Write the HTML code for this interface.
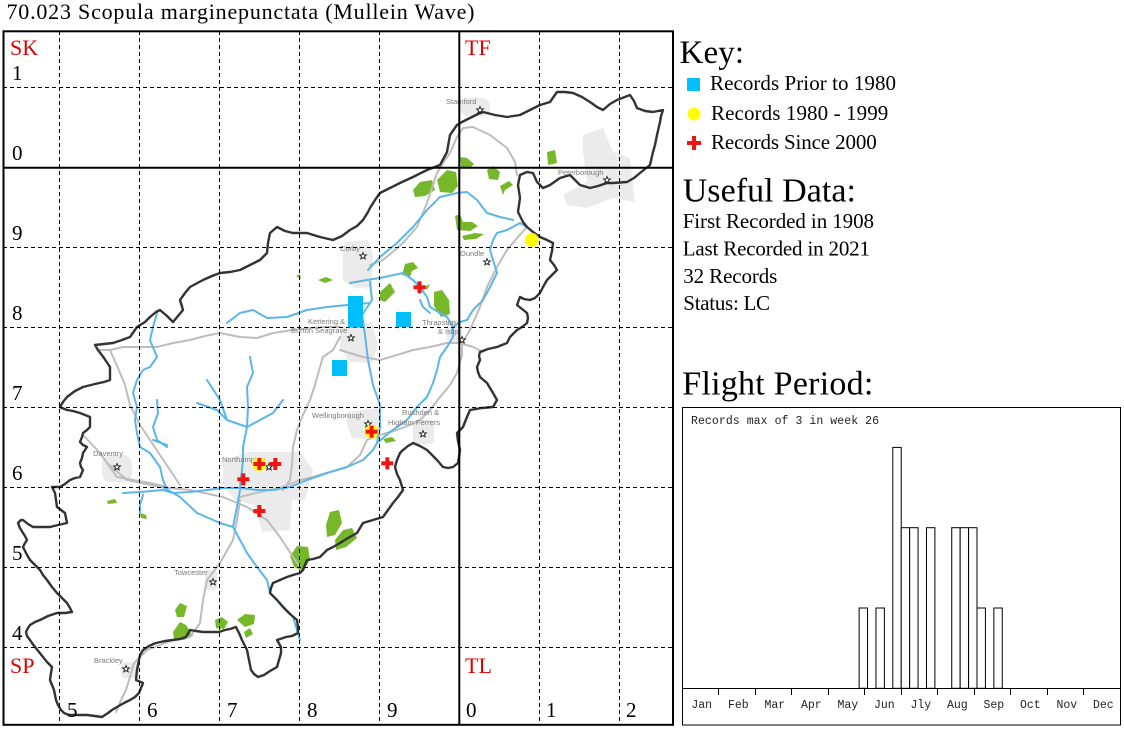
<!DOCTYPE html>
<html><head><meta charset="utf-8"><style>
html,body{margin:0;padding:0;background:#fff;}
svg{display:block;}
.serif{font-family:"Liberation Serif","Times New Roman",serif;}
.mono{font-family:"Liberation Mono","Courier New",monospace;}
.sans{font-family:"Liberation Sans",Arial,sans-serif;}
</style></head><body>
<svg width="1124" height="730" viewBox="0 0 1124 730" xmlns="http://www.w3.org/2000/svg">
<rect width="1124" height="730" fill="#fff"/>
<!-- Title -->
<text class="serif" x="6.5" y="19" font-size="22" textLength="468" lengthAdjust="spacing" fill="#000">70.023 Scopula marginepunctata (Mullein Wave)</text>

<!-- MAP -->
<g>
<!-- urban areas -->
<g fill="#ebebeb">
<path d="M583,135 L603,128 L613,152 L630,158 L633,185 L635,202 L613,198 L587,208 L567,205 L563,195 L587,182 L583,152 Z"/>
<rect x="460" y="98" width="30" height="18" rx="8"/>
<path d="M345,242 L368,240 L373,255 L372,287 L355,288 L343,280 L343,255 Z"/>
<path d="M340,327 L372,322 L378,345 L372,363 L350,362 L340,348 Z"/>
<rect x="447" y="320" width="15" height="24" rx="5"/>
<path d="M347,412 L378,408 L382,428 L376,440 L352,438 L347,425 Z"/>
<rect x="413" y="420" width="21" height="24" rx="4"/>
<path d="M223,460 L250,452 L300,452 L313,470 L305,500 L292,500 L290,530 L262,532 L255,505 L235,500 L223,485 Z"/>
<rect x="102" y="455" width="30" height="27" rx="9"/>
<rect x="205" y="570" width="12" height="20" rx="4"/>
<rect x="121" y="662" width="18" height="16" rx="4"/>
</g>
<!-- woodland -->
<g fill="#76b82a">
<path d="M413,190 L420,182 L432,180 L435,190 L425,196 L415,197 Z"/>
<path d="M437,180 L447,170 L456,172 L458,186 L452,193 L440,192 Z"/>
<path d="M460,157 L467,158 L474,164 L470,168 L461,167 Z"/>
<path d="M487,170 L493,166 L500,172 L498,180 L489,179 Z"/>
<path d="M500,186 L509,181 L513,185 L505,190 L503,195 Z"/>
<path d="M547,152 L555,150 L557,163 L548,165 Z"/>
<path d="M455,216 L460,214 L463,222 L472,222 L478,226 L470,231 L457,230 Z"/>
<path d="M462,236 L475,233 L484,234 L476,239 L464,240 Z"/>
<path d="M402,275 L405,264 L413,262 L418,268 L412,271 L410,277 Z"/>
<path d="M380,292 L390,283 L395,292 L385,302 L380,300 Z"/>
<path d="M434,292 L442,290 L449,300 L450,314 L441,317 L434,306 Z"/>
<path d="M424,287 L430,284 L427,290 Z"/>
<path d="M318,280 L326,277 L333,280 L325,283 Z"/>
<path d="M296,276 L300,274 L301,279 Z"/>
<path d="M383,439 L392,437 L396,441 L386,443 Z"/>
<path d="M326,525 L330,512 L339,510 L342,523 L335,535 L327,537 Z"/>
<path d="M335,540 L343,530 L352,528 L357,538 L346,547 L336,550 Z"/>
<path d="M290,556 L297,546 L308,547 L310,560 L303,571 L294,567 Z"/>
<path d="M175,610 L180,603 L187,606 L184,617 L177,617 Z"/>
<path d="M173,632 L180,622 L186,625 L193,636 L184,640 L174,639 Z"/>
<path d="M215,620 L222,617 L228,622 L224,629 L216,628 Z"/>
<path d="M237,620 L245,614 L255,615 L254,624 L245,627 Z"/>
<path d="M244,632 L250,628 L253,634 L246,638 Z"/>
<path d="M107,501 L115,499 L117,503 L108,504 Z"/>
<path d="M140,513 L146,515 L147,519 L141,518 Z"/>
</g>
<!-- roads -->
<g fill="none" stroke="#bdbdbd" stroke-width="2" stroke-linejoin="round" stroke-linecap="round">
<polyline points="98,350 110,350 123,347 140,347 157,347 173,343 190,340 205,336 220,333 240,337 257,338 273,333 293,330 310,328 323,327 340,327"/>
<polyline points="340,350 363,357 380,360 397,355 413,350 430,347 447,343 460,343 473,347 483,352"/>
<polyline points="340,337 333,350 323,357 320,367 315,385 310,400 303,415 297,430 293,447 292,465 290,480 283,490"/>
<polyline points="240,497 260,492 280,488 300,480 313,477 330,472 347,467 360,455 367,440 380,435 397,430 410,425 420,420 430,410 440,397 450,385 457,373 462,355 462,343 470,330 480,307 487,287 497,267 507,250 517,238 527,227"/>
<polyline points="370,265 383,260 395,250 403,243 417,227 427,203 437,173 445,160 450,153 457,137 463,128 473,127 490,135 507,148 515,162 517,175"/>
<polyline points="110,350 118,368 125,385 130,405 140,425 150,440 160,455 170,470 180,485"/>
<polyline points="107,463 127,480 160,487 190,490 223,497 247,507 267,520 280,537 293,557 300,567"/>
<polyline points="240,500 237,520 233,540 220,563 207,580 203,600 200,623 190,637 173,640 147,650 134,663 130,677 126,690 121,700 116,712"/>
<polyline points="83,435 100,453 110,467 117,477 133,480 150,483 167,487"/>
</g>
<!-- rivers -->
<g fill="none" stroke="#5cb6e8" stroke-width="2" stroke-linejoin="round" stroke-linecap="round">
<polyline points="123,493 140,492 163,490 173,493 190,492 207,490 223,488 240,488 257,490 273,490 290,487 307,480 327,473 347,467 363,460 373,450 377,443 390,432 407,420 417,407 427,397 433,383 437,370 440,357 447,347 453,337 453,327 447,317 440,313"/>
<polyline points="453,327 460,322 467,320 473,310 483,300 490,287 497,273 493,260 490,250 493,240 497,233 507,230 520,223 527,227"/>
<polyline points="513,220 500,217 487,213 477,200 467,192 457,193 440,197 427,210 413,227 397,243 380,257 368,270"/>
<polyline points="350,283 367,280 380,278 403,273 413,280 420,287 427,297 430,307 440,313 447,317"/>
<polyline points="420,300 423,307 430,313"/>
<polyline points="370,282 372,300 362,315 365,335 368,360 373,385 380,405 380,427 377,443"/>
<polyline points="227,323 240,313 253,310 267,318 287,317 307,310 327,307 347,305 370,303"/>
<polyline points="157,313 153,327 150,340 157,357 150,367 143,370 137,380 133,393 137,407 135,420 137,433 140,447 150,453 160,467 163,480 167,490"/>
<polyline points="157,400 158,413 153,427 157,440 167,447"/>
<polyline points="250,357 253,373 247,387 248,407 247,427 243,447 243,460 240,488"/>
<polyline points="207,380 220,400 227,420 247,427"/>
<polyline points="283,400 273,413 247,427"/>
<polyline points="197,403 217,410 227,420"/>
<polyline points="240,490 237,507 233,527 240,540 247,553 257,567 267,580 270,593 280,603 293,617 297,630 300,640"/>
<polyline points="163,487 180,497 197,513 220,523 233,527"/>
<polyline points="143,495 140,505 140,513"/>
<polyline points="153,440 167,445"/>
</g>
<!-- county boundary -->
<polygon fill="none" stroke="#333" stroke-width="2.4" stroke-linejoin="round" points="95,345 104,344 113,343 122,340 130,337 137,327 145,322 150,317 156,312 160,310 167,316 173,322 178,316 183,310 180,300 185,293 190,287 203,280 212,276 220,273 230,272 240,270 250,265 260,260 267,253 268,243 270,233 277,227 285,231 293,233 307,233 320,237 333,240 342,236 350,230 357,226 363,220 368,212 370,208 375,200 380,193 390,188 400,183 413,177 427,170 440,165 447,152 450,135 457,125 462,122 470,118 478,114 483,112 495,115 507,117 520,115 530,110 540,105 550,102 557,92 565,92 573,93 582,97 590,102 597,107 603,110 610,104 617,100 630,95 634,101 637,108 645,111 653,112 663,110 661,116 660,122 657,135 655,145 653,152 650,165 640,173 634,178 627,182 613,183 607,183 598,186 590,188 580,185 575,180 570,175 560,178 550,185 543,188 537,182 533,173 527,172 520,175 518,185 520,198 518,212 523,222 527,227 533,232 540,237 547,240 553,243 552,251 550,260 554,265 557,270 552,275 547,280 543,287 540,293 535,298 530,300 524,299 520,297 517,305 522,309 527,313 528,318 527,323 522,327 517,330 513,334 510,337 507,343 502,345 497,347 488,349 480,352 479,356 480,360 477,367 478,372 480,377 487,383 490,388 493,393 497,400 493,407 482,408 470,410 467,417 465,422 463,427 457,433 458,441 460,450 459,457 458,463 453,467 448,468 443,467 437,460 432,455 427,450 420,446 413,443 408,446 403,450 400,453 397,460 395,467 397,474 400,480 403,490 398,497 393,503 388,510 383,517 373,520 363,523 360,528 357,533 348,538 340,543 333,547 327,550 320,557 313,559 307,560 303,570 300,573 293,575 287,577 280,580 273,583 271,588 270,593 277,600 283,607 290,614 297,620 298,627 298,633 292,636 286,637 277,640 281,647 281,653 279,660 277,667 270,671 264,675 258,677 254,674 251,670 249,660 247,650 244,644 242,640 239,633 236,627 230,629 225,630 219,632 211,632 203,632 196,631 190,630 186,637 180,639 173,640 165,641 156,643 149,646 143,650 140,655 139,660 137,670 136,680 143,683 141,688 139,693 135,697 130,700 124,703 117,707 112,710 108,713 102,717 95,716 87,715 78,715 69,715 64,713 61,710 58,705 56,700 55,695 54,690 52,685 50,680 51,673 52,667 47,662 43,657 39,652 35,647 32,643 30,640 27,636 26,632 28,628 30,625 35,622 40,620 48,616 57,613 65,613 72,612 70,608 67,603 62,598 57,593 52,587 47,580 43,575 40,570 35,565 30,560 26,553 23,547 25,543 27,540 25,536 23,533 20,528 18,523 21,520 23,520 28,524 33,527 42,527 50,527 58,525 67,523 66,518 65,513 61,510 57,507 56,500 55,493 53,489 52,487 56,487 60,487 65,484 70,480 75,478 80,477 83,470 81,467 80,463 82,458 83,453 87,447 83,445 80,442 82,437 83,433 87,430 90,427 90,422 90,417 85,415 80,413 73,411 67,410 62,408 60,407 63,402 67,397 75,391 83,387 95,384 104,382 110,380 110,373 110,367 104,358 98,350"/>
<!-- town stars -->
<g fill="#fff" stroke="#222" stroke-width="0.9">
<path d="M0,-3.5 L1,-1.1 L3.4,-1.1 L1.5,0.5 L2.2,2.9 L0,1.5 L-2.2,2.9 L-1.5,0.5 L-3.4,-1.1 L-1,-1.1 Z" transform="translate(480,110)"/>
<path d="M0,-3.5 L1,-1.1 L3.4,-1.1 L1.5,0.5 L2.2,2.9 L0,1.5 L-2.2,2.9 L-1.5,0.5 L-3.4,-1.1 L-1,-1.1 Z" transform="translate(607,180)"/>
<path d="M0,-3.5 L1,-1.1 L3.4,-1.1 L1.5,0.5 L2.2,2.9 L0,1.5 L-2.2,2.9 L-1.5,0.5 L-3.4,-1.1 L-1,-1.1 Z" transform="translate(363,256)"/>
<path d="M0,-3.5 L1,-1.1 L3.4,-1.1 L1.5,0.5 L2.2,2.9 L0,1.5 L-2.2,2.9 L-1.5,0.5 L-3.4,-1.1 L-1,-1.1 Z" transform="translate(487,262)"/>
<path d="M0,-3.5 L1,-1.1 L3.4,-1.1 L1.5,0.5 L2.2,2.9 L0,1.5 L-2.2,2.9 L-1.5,0.5 L-3.4,-1.1 L-1,-1.1 Z" transform="translate(351,338)"/>
<path d="M0,-3.5 L1,-1.1 L3.4,-1.1 L1.5,0.5 L2.2,2.9 L0,1.5 L-2.2,2.9 L-1.5,0.5 L-3.4,-1.1 L-1,-1.1 Z" transform="translate(462,340)"/>
<path d="M0,-3.5 L1,-1.1 L3.4,-1.1 L1.5,0.5 L2.2,2.9 L0,1.5 L-2.2,2.9 L-1.5,0.5 L-3.4,-1.1 L-1,-1.1 Z" transform="translate(368,424)"/>
<path d="M0,-3.5 L1,-1.1 L3.4,-1.1 L1.5,0.5 L2.2,2.9 L0,1.5 L-2.2,2.9 L-1.5,0.5 L-3.4,-1.1 L-1,-1.1 Z" transform="translate(423,434)"/>
<path d="M0,-3.5 L1,-1.1 L3.4,-1.1 L1.5,0.5 L2.2,2.9 L0,1.5 L-2.2,2.9 L-1.5,0.5 L-3.4,-1.1 L-1,-1.1 Z" transform="translate(269,467)"/>
<path d="M0,-3.5 L1,-1.1 L3.4,-1.1 L1.5,0.5 L2.2,2.9 L0,1.5 L-2.2,2.9 L-1.5,0.5 L-3.4,-1.1 L-1,-1.1 Z" transform="translate(117,467)"/>
<path d="M0,-3.5 L1,-1.1 L3.4,-1.1 L1.5,0.5 L2.2,2.9 L0,1.5 L-2.2,2.9 L-1.5,0.5 L-3.4,-1.1 L-1,-1.1 Z" transform="translate(213,582)"/>
<path d="M0,-3.5 L1,-1.1 L3.4,-1.1 L1.5,0.5 L2.2,2.9 L0,1.5 L-2.2,2.9 L-1.5,0.5 L-3.4,-1.1 L-1,-1.1 Z" transform="translate(126,669)"/>
</g>
<!-- town labels -->
<g class="sans" font-size="7.5" fill="#7a7a7a">
<text x="446" y="104">Stamford</text>
<text x="558" y="175">Peterborough</text>
<text x="340" y="251">Corby</text>
<text x="460" y="256">Oundle</text>
<text x="308" y="324">Kettering &amp;</text>
<text x="291" y="333">Burton Seagrave</text>
<text x="422" y="325">Thrapston</text>
<text x="438" y="334">&amp; Islip</text>
<text x="312" y="418">Wellingborough</text>
<text x="402" y="415">Rushden &amp;</text>
<text x="388" y="425">Higham Ferrers</text>
<text x="222" y="462">Northampton</text>
<text x="93" y="456">Daventry</text>
<text x="174" y="575">Towcester</text>
<text x="94" y="663">Brackley</text>
</g>
<!-- dashed grid -->
<g stroke="#000" stroke-width="1" stroke-dasharray="4,3">
<line x1="59.5" y1="31" x2="59.5" y2="725"/>
<line x1="139.5" y1="31" x2="139.5" y2="725"/>
<line x1="219.5" y1="31" x2="219.5" y2="725"/>
<line x1="299.5" y1="31" x2="299.5" y2="725"/>
<line x1="379.5" y1="31" x2="379.5" y2="725"/>
<line x1="539.5" y1="31" x2="539.5" y2="725"/>
<line x1="619.5" y1="31" x2="619.5" y2="725"/>
<line x1="3" y1="87.5" x2="673" y2="87.5"/>
<line x1="3" y1="247.5" x2="673" y2="247.5"/>
<line x1="3" y1="327.5" x2="673" y2="327.5"/>
<line x1="3" y1="407.5" x2="673" y2="407.5"/>
<line x1="3" y1="487.5" x2="673" y2="487.5"/>
<line x1="3" y1="567.5" x2="673" y2="567.5"/>
<line x1="3" y1="647.5" x2="673" y2="647.5"/>
</g>
<!-- solid grid + frame -->
<g stroke="#000" stroke-width="2" fill="none">
<line x1="459.3" y1="31" x2="459.3" y2="725"/>
<line x1="3" y1="167.7" x2="673" y2="167.7"/>
<rect x="3.5" y="31.3" width="669.5" height="693.5"/>
</g>
<!-- markers -->
<g fill="#00bfff">
<rect x="348" y="296" width="15" height="31.5"/>
<rect x="396" y="312" width="15" height="15"/>
<rect x="332" y="360" width="15" height="16"/>
</g>
<g fill="#ffff00">
<circle cx="531.7" cy="240" r="7"/>
<circle cx="259.3" cy="464" r="7"/>
<circle cx="371.6" cy="431.7" r="7"/>
</g>
<g fill="#f01414">
<rect x="413.5" y="285.3" width="12" height="4"/><rect x="417.5" y="281.3" width="4" height="12"/>
<rect x="365.6" y="429.7" width="12" height="4"/><rect x="369.6" y="425.7" width="4" height="12"/>
<rect x="381.3" y="461.3" width="12" height="4"/><rect x="385.3" y="457.3" width="4" height="12"/>
<rect x="253.3" y="462" width="12" height="4"/><rect x="257.3" y="458" width="4" height="12"/>
<rect x="269.3" y="462" width="12" height="4"/><rect x="273.3" y="458" width="4" height="12"/>
<rect x="237.3" y="477.3" width="12" height="4"/><rect x="241.3" y="473.3" width="4" height="12"/>
<rect x="253.3" y="509" width="12" height="4"/><rect x="257.3" y="505" width="4" height="12"/>
</g>
<!-- grid labels -->
<g class="serif" font-size="22" fill="#e00000">
<text x="10" y="55">SK</text>
<text x="465" y="55">TF</text>
<text x="10" y="673">SP</text>
<text x="465" y="673">TL</text>
</g>
<g class="serif" font-size="21" fill="#000">
<text x="12" y="80">1</text>
<text x="12" y="160">0</text>
<text x="12" y="240">9</text>
<text x="12" y="320">8</text>
<text x="12" y="400">7</text>
<text x="12" y="480">6</text>
<text x="12" y="560">5</text>
<text x="12" y="640">4</text>
<text x="67" y="717">5</text>
<text x="147" y="717">6</text>
<text x="227" y="717">7</text>
<text x="307" y="717">8</text>
<text x="387" y="717">9</text>
<text x="466" y="717">0</text>
<text x="546" y="717">1</text>
<text x="626" y="717">2</text>
</g>
</g>

<!-- KEY -->
<text class="serif" x="679.5" y="63" font-size="33" textLength="64.5" lengthAdjust="spacing">Key:</text>
<rect x="687" y="78" width="13" height="13" fill="#00bfff"/>
<circle cx="694" cy="114" r="6.5" fill="#ffff00"/>
<rect x="687" y="141" width="14" height="4" fill="#f01414"/><rect x="692" y="136" width="4" height="14" fill="#f01414"/>
<g class="serif" font-size="21" fill="#000">
<text x="710" y="90" textLength="186" lengthAdjust="spacing">Records Prior to 1980</text>
<text x="711" y="120" textLength="177.3" lengthAdjust="spacing">Records 1980 - 1999</text>
<text x="711" y="149" textLength="165.7" lengthAdjust="spacing">Records Since 2000</text>
</g>
<text class="serif" x="682.7" y="201.7" font-size="34" textLength="173.3" lengthAdjust="spacing">Useful Data:</text>
<g class="serif" font-size="21" fill="#000">
<text x="682.7" y="228" textLength="191.3" lengthAdjust="spacing">First Recorded in 1908</text>
<text x="682.7" y="255.7" textLength="187.3" lengthAdjust="spacing">Last Recorded in 2021</text>
<text x="683.3" y="283" textLength="94" lengthAdjust="spacing">32 Records</text>
<text x="683.3" y="310" textLength="86.7" lengthAdjust="spacing">Status: LC</text>
</g>
<text class="serif" x="682.3" y="394.3" font-size="34" textLength="191" lengthAdjust="spacing">Flight Period:</text>

<!-- FLIGHT CHART -->
<rect x="682.5" y="407.5" width="438" height="317.5" fill="#fff" stroke="#000" stroke-width="1"/>
<text class="mono" x="691" y="424" font-size="11.5" textLength="188" lengthAdjust="spacing" fill="#222">Records max of 3 in week 26</text>
<g fill="#fff" stroke="#000" stroke-width="1">
<rect x="859.12" y="608" width="8.42" height="80.3"/>
<rect x="875.96" y="608" width="8.42" height="80.3"/>
<rect x="892.8" y="447.4" width="8.42" height="240.9"/>
<rect x="901.22" y="527.7" width="8.42" height="160.6"/>
<rect x="909.64" y="527.7" width="8.42" height="160.6"/>
<rect x="926.48" y="527.7" width="8.42" height="160.6"/>
<rect x="951.74" y="527.7" width="8.42" height="160.6"/>
<rect x="960.16" y="527.7" width="8.42" height="160.6"/>
<rect x="968.58" y="527.7" width="8.42" height="160.6"/>
<rect x="977.0" y="608" width="8.42" height="80.3"/>
<rect x="993.84" y="608" width="8.42" height="80.3"/>
</g>
<line x1="682.5" y1="688.5" x2="1120.5" y2="688.5" stroke="#000" stroke-width="1"/>
<g stroke="#000" stroke-width="1">
<line x1="718.5" y1="688" x2="718.5" y2="695"/>
<line x1="755.5" y1="688" x2="755.5" y2="695"/>
<line x1="791.5" y1="688" x2="791.5" y2="695"/>
<line x1="828.5" y1="688" x2="828.5" y2="695"/>
<line x1="864.5" y1="688" x2="864.5" y2="695"/>
<line x1="901.5" y1="688" x2="901.5" y2="695"/>
<line x1="937.5" y1="688" x2="937.5" y2="695"/>
<line x1="974.5" y1="688" x2="974.5" y2="695"/>
<line x1="1010.5" y1="688" x2="1010.5" y2="695"/>
<line x1="1047.5" y1="688" x2="1047.5" y2="695"/>
<line x1="1083.5" y1="688" x2="1083.5" y2="695"/>
</g>
<g class="mono" font-size="11.5" fill="#222" text-anchor="middle">
<text x="701.7" y="708">Jan</text>
<text x="738.3" y="708">Feb</text>
<text x="774.8" y="708">Mar</text>
<text x="811.3" y="708">Apr</text>
<text x="847.8" y="708">May</text>
<text x="884.3" y="708">Jun</text>
<text x="920.8" y="708">Jly</text>
<text x="957.3" y="708">Aug</text>
<text x="993.8" y="708">Sep</text>
<text x="1030.3" y="708">Oct</text>
<text x="1066.8" y="708">Nov</text>
<text x="1103.3" y="708">Dec</text>
</g>
</svg>
</body></html>
